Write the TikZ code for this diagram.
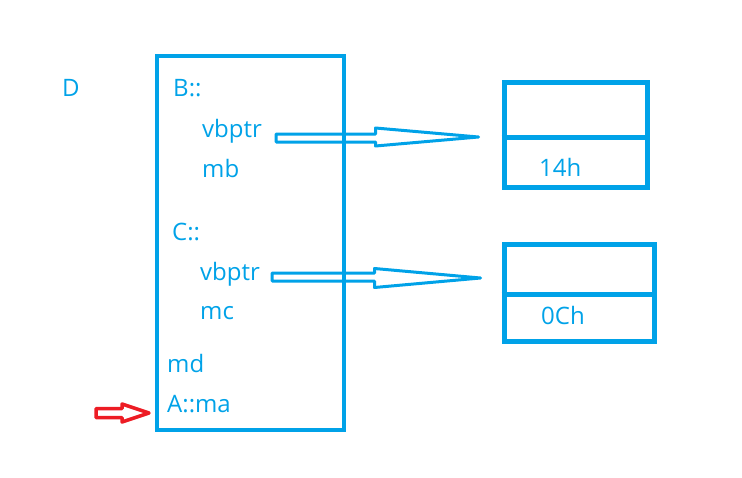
\documentclass[tikz,border=0pt]{standalone}
\usepackage{fontspec}
\setmainfont{Open Sans}
\usetikzlibrary{calc}
\definecolor{paintblue}{RGB}{0,162,232}
\definecolor{paintred}{RGB}{237,28,36}

\newcommand\hollowptr[6]{%
  \draw[#1] let \p1=(#2), \p2=(#3) in
    (\x1,\y1+#5) -- (\x2-#4,\y1+#5) -- (\x2-#4,\y2+#6) -- (\p2)
    -- (\x2-#4,\y2-#6) -- (\x2-#4,\y1-#5) -- (\x1,\y1-#5) -- cycle;}

\begin{document}
\begin{tikzpicture}[x=1pt,y=-1pt,
    lbl/.style={anchor=base west, inner sep=0pt, text=paintblue, font=\fontsize{24}{28}\selectfont},
    frame/.style={draw=paintblue, line width=4pt, inner sep=0pt},
    vtbl/.style={draw=paintblue, line width=5pt, inner sep=0pt},
    ptr/.style={draw=paintblue, line width=3pt, line join=round},
    thisptr/.style={draw=paintred, line width=3.5pt, line join=round}]
  \useasboundingbox (0,0) rectangle (742,477);

  \node[frame, minimum width=187pt, minimum height=374pt] (obj) at (250.5,243) {};
  \node[vtbl, minimum width=143pt, minimum height=105pt] (vtB) at (575.5,134.5) {};
  \node[vtbl, minimum width=150pt, minimum height=97pt] (vtC) at (579,292.5) {};
  \draw[vtbl] ($(vtB.north west)+(0,58)$) -- ($(vtB.north east)+(0,58)$);
  \draw[vtbl] ($(vtC.north west)+(0,53)$) -- ($(vtC.north east)+(0,53)$);

  \node[lbl] (D) at (62,96) {D};
  \node[lbl] (B) at (173,96) {B::};
  \node[lbl] (ptrB) at (202,137) {vbptr};
  \node[lbl] (mb) at (202,177) {mb};
  \node[lbl] (C) at (172,240) {C::};
  \node[lbl] (ptrC) at (200,280) {vbptr};
  \node[lbl] (mc) at (200,319) {mc};
  \node[lbl] (md) at (167,372) {md};
  \node[lbl] (ma) at (167,412) {A::ma};
  \node[lbl] (offB) at (539,176) {14h};
  \node[lbl] (offC) at (541,324) {0Ch};

  \coordinate (tailB) at ($(ptrB.base east)+(14,1)$);
  \coordinate (tailC) at ($(ptrC.base east)+(12,-3)$);
  \coordinate (tailA) at (96,413);
  \hollowptr{ptr}{tailB}{$(vtB.west)+(-23,2.5)$}{103pt}{4pt}{9pt}
  \hollowptr{ptr}{tailC}{$(vtC.west)+(-21,-14.5)$}{106pt}{4pt}{9.5pt}
  \hollowptr{thisptr}{tailA}{$(ma.base west)+(-18,1)$}{27pt}{4.5pt}{9pt}
\end{tikzpicture}
\end{document}
